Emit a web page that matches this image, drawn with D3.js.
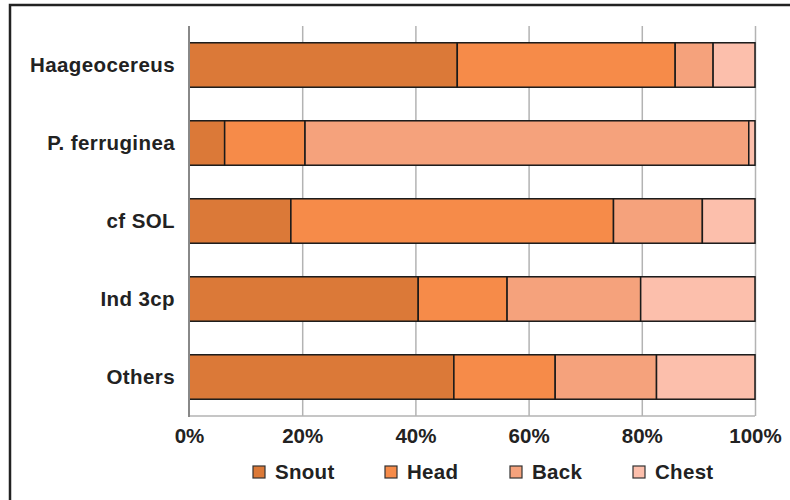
<!DOCTYPE html>
<html>
<head>
<meta charset="utf-8">
<script src="https://cdn.jsdelivr.net/npm/d3@7.9.0/dist/d3.min.js"></script>
<style>
  body { margin: 0; background: #fff; }
  text { font-family: 'Liberation Sans', Arial, sans-serif; font-weight: bold; fill: #222; }
</style>
</head>
<body>
<svg id="chart" width="790" height="500"></svg>
<script>
const categories = ['Haageocereus', 'P. ferruginea', 'cf SOL', 'Ind 3cp', 'Others'];
const parts = ['Snout', 'Head', 'Back', 'Chest'];
const snout = [47.4, 6.3, 18.0, 40.5, 46.8];
const head = [38.5, 14.2, 57.0, 15.7, 17.9];
const back = [6.7, 78.4, 15.7, 23.6, 17.9];
const chest = [7.4, 1.1, 9.3, 20.2, 17.4];
const tickValues = [0, 0.2, 0.4, 0.6, 0.8, 1];

const svg = d3.select('#chart');
const colors = d3.scaleOrdinal(parts, ['#db7938', '#f68b49', '#f5a27c', '#fcbfac']);

const rows = categories.map((c, i) => ({
    name: c, Snout: snout[i], Head: head[i], Back: back[i], Chest: chest[i]
}));
const stacked = d3.stack().keys(parts).offset(d3.stackOffsetExpand)(rows);

const x = d3.scaleLinear().domain([0, 1]).range([189, 755]);
const y = d3.scaleBand().domain(categories).range([26, 416])
    .paddingInner(0.43).paddingOuter(0.215);

// outer frame (only top and left visible)
svg.append('path')
    .attr('d', 'M10,510 L10,5 L800,5')
    .attr('fill', 'none')
    .attr('stroke', '#222')
    .attr('stroke-width', 2.5);

// grid lines
svg.append('g')
    .attr('transform', 'translate(0,416)')
    .call(d3.axisBottom(x).tickValues(tickValues.slice(1)).tickSize(-390).tickFormat(''))
    .call(g => g.select('.domain').remove())
    .call(g => g.selectAll('line').attr('stroke', '#b3b3b3').attr('stroke-width', 1.5));

// bottom line
svg.append('line')
    .attr('x1', x(0)).attr('x2', x(1))
    .attr('y1', 416).attr('y2', 416)
    .attr('stroke', '#b3b3b3').attr('stroke-width', 1.5);

// bars
svg.append('g')
    .selectAll('g')
    .data(stacked)
    .join('g')
    .attr('fill', d => colors(d.key))
    .selectAll('rect')
    .data(d => d)
    .join('rect')
    .attr('x', d => x(d[0]))
    .attr('y', d => y(d.data.name))
    .attr('width', d => x(d[1]) - x(d[0]))
    .attr('height', y.bandwidth())
    .attr('stroke', '#1a1a1a')
    .attr('stroke-width', 1.5);

// left axis line
svg.append('line')
    .attr('x1', x(0)).attr('x2', x(0))
    .attr('y1', 26).attr('y2', 417)
    .attr('stroke', '#888').attr('stroke-width', 2);

// category labels
svg.append('g')
    .attr('transform', 'translate(175,0)')
    .call(d3.axisLeft(y).tickSize(0).tickPadding(0))
    .call(g => g.select('.domain').remove())
    .call(g => g.selectAll('text')
        .style('font-size', '20.5px')
        .style('letter-spacing', '0.4px')
        .attr('fill', '#222'));

// percent ticks
svg.append('g')
    .attr('transform', 'translate(0,428)')
    .call(d3.axisBottom(x).tickValues(tickValues).tickSize(0).tickPadding(0).tickFormat(d3.format('.0%')))
    .call(g => g.select('.domain').remove())
    .call(g => g.selectAll('text')
        .style('font-size', '20.5px')
        .attr('fill', '#222'));

// legend
const legendX = [253, 385, 510, 633];
const legend = svg.append('g')
    .selectAll('g')
    .data(parts)
    .join('g')
    .attr('transform', (d, i) => `translate(${legendX[i]},466)`);
legend.append('rect')
    .attr('width', 12).attr('height', 12)
    .attr('fill', d => colors(d))
    .attr('stroke', '#333').attr('stroke-width', 1.2);
legend.append('text')
    .attr('x', 22).attr('y', 6).attr('dy', '0.35em')
    .style('font-size', '20.5px')
    .style('letter-spacing', '0.3px')
    .text(d => d);
</script>
</body>
</html>
